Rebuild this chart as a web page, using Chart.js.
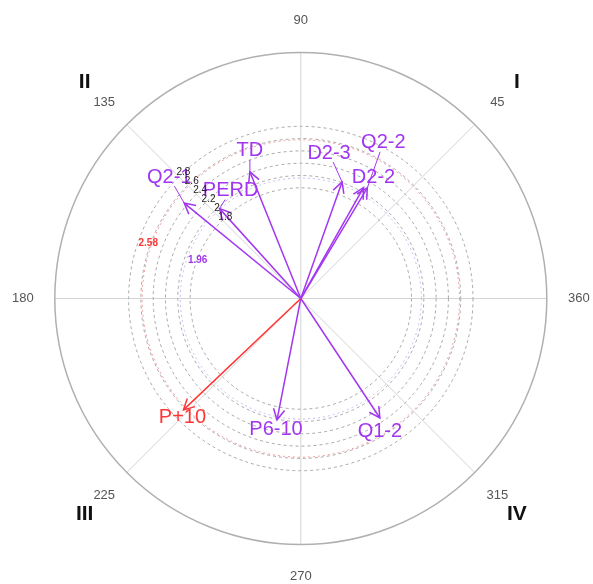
<!DOCTYPE html>
<html>
<head>
<meta charset="utf-8">
<script src="https://cdn.jsdelivr.net/npm/chart.js@4"></script>
<style>
  body { margin: 0; background: #fff; }
  #wrap { width: 593px; height: 584px; }
</style>
</head>
<body>
<div id="wrap"><canvas id="vectorChart" width="593" height="584"></canvas></div>
<script>
// vector data: magnitude (z) and direction (degrees)
const names = ['Q2-1', 'PERD', 'TD', 'D2-3', 'Q2-2', 'D2-2', 'P+10', 'P6-10', 'Q1-2'];
const magnitudes = [2.45, 1.97, 2.22, 2.01, 2.10, 2.07, 2.63, 2.01, 2.33];
const angles = [140.7, 132.1, 111.9, 70.5, 59, 60.5, 223.5, 258.9, 303.5];

const ringValues = [1.8, 2, 2.2, 2.4, 2.6, 2.8];
const critValues = [1.96, 2.58];
const angleTicks = [45, 90, 135, 180, 225, 270, 315, 360];
const quadrants = ['I', 'II', 'III', 'IV'];
const outerRadius = 4;

const PURPLE = '#A236F0';
const RED = '#FF3535';
const FONT = '"Liberation Sans", Arial, sans-serif';

// pixel offsets of each name label from its arrow tip
const labelOffsets = {
    'Q2-1': [-15, -26], 'PERD': [11, -18], 'TD': [0, -21], 'D2-3': [-13, -29],
    'Q2-2': [16, -45], 'D2-2': [10, -10], 'P+10': [-1, 8], 'P6-10': [-1, 10], 'Q1-2': [0, 13]
};

const rad = d => d * Math.PI / 180;
const colorFor = m => (m >= critValues[1] ? RED : PURPLE);

const datasets = names.map((n, i) => ({
    label: n,
    data: [{x: 0, y: 0}, {x: magnitudes[i] * Math.cos(rad(angles[i])), y: magnitudes[i] * Math.sin(rad(angles[i]))}],
    showLine: true,
    borderColor: colorFor(magnitudes[i]),
    borderWidth: 1.5,
    pointRadius: 0,
    fill: false
}));

const polarGrid = {
    id: 'polarGrid',
    beforeDatasetsDraw(chart) {
        const {ctx, scales: {x, y}} = chart;
        const cx = x.getPixelForValue(0), cy = y.getPixelForValue(0);
        const px = v => x.getPixelForValue(v) - cx;
        ctx.save();
        // spokes
        ctx.strokeStyle = '#d4d4d4';
        ctx.lineWidth = 1;
        for (let a = 0; a < 360; a += 45) {
            ctx.beginPath();
            ctx.moveTo(cx, cy);
            ctx.lineTo(x.getPixelForValue(outerRadius * Math.cos(rad(a))), y.getPixelForValue(outerRadius * Math.sin(rad(a))));
            ctx.stroke();
        }
        // outer circle
        ctx.strokeStyle = '#b0b0b0';
        ctx.lineWidth = 1.5;
        ctx.beginPath();
        ctx.arc(cx, cy, px(outerRadius), 0, Math.PI * 2);
        ctx.stroke();
        // dashed rings
        ctx.lineWidth = 1;
        ctx.setLineDash([3, 3]);
        ctx.strokeStyle = '#a8a8a8';
        ringValues.forEach(v => {
            ctx.beginPath();
            ctx.arc(cx, cy, px(v), 0, Math.PI * 2);
            ctx.stroke();
        });
        ctx.setLineDash([2, 3]);
        [['#c8b8f4', critValues[0]], ['#f29a9a', critValues[1]]].forEach(([c, v]) => {
            ctx.strokeStyle = c;
            ctx.beginPath();
            ctx.arc(cx, cy, px(v), 0, Math.PI * 2);
            ctx.stroke();
        });
        ctx.setLineDash([]);
        // angle labels
        ctx.fillStyle = '#555';
        ctx.font = '13px ' + FONT;
        ctx.textAlign = 'center';
        ctx.textBaseline = 'middle';
        angleTicks.forEach(a => {
            const r = 4.52;
            ctx.fillText(String(a), x.getPixelForValue(r * Math.cos(rad(a))), y.getPixelForValue(r * Math.sin(rad(a))));
        });
        // quadrant numerals
        ctx.fillStyle = '#111';
        ctx.font = 'bold 21px ' + FONT;
        quadrants.forEach((q, i) => {
            const a = 45 + 90 * i, r = 4.97;
            ctx.fillText(q, x.getPixelForValue(r * Math.cos(rad(a))), y.getPixelForValue(r * Math.sin(rad(a))));
        });
        ctx.restore();
    }
};

const vectorLabels = {
    id: 'vectorLabels',
    afterDatasetsDraw(chart) {
        const {ctx, scales: {x, y}} = chart;
        ctx.save();
        ctx.font = '20px ' + FONT;
        ctx.textAlign = 'center';
        ctx.textBaseline = 'middle';
        names.forEach((n, i) => {
            const meta = chart.getDatasetMeta(i);
            const p0 = meta.data[0], p1 = meta.data[1];
            const col = colorFor(magnitudes[i]);
            const ang = Math.atan2(p1.y - p0.y, p1.x - p0.x);
            // arrow head
            ctx.strokeStyle = col;
            ctx.lineWidth = 1.5;
            const hl = 12, spread = rad(28);
            ctx.beginPath();
            ctx.moveTo(p1.x - hl * Math.cos(ang - spread), p1.y - hl * Math.sin(ang - spread));
            ctx.lineTo(p1.x, p1.y);
            ctx.lineTo(p1.x - hl * Math.cos(ang + spread), p1.y - hl * Math.sin(ang + spread));
            ctx.stroke();
            // label with connector
            const [ox, oy] = labelOffsets[n];
            const lx = p1.x + ox, ly = p1.y + oy;
            const w = ctx.measureText(n).width / 2 + 1, h = 9;
            const d = Math.hypot(ox, oy);
            if (d > 14) {
                const t = Math.min(Math.abs(ox) > 0 ? w / Math.abs(ox) : 1e9, Math.abs(oy) > 0 ? h / Math.abs(oy) : 1e9);
                if (t < 1) {
                    ctx.lineWidth = 1;
                    ctx.beginPath();
                    ctx.moveTo(p1.x, p1.y);
                    ctx.lineTo(lx - ox * t, ly - oy * t);
                    ctx.stroke();
                }
            }
            ctx.fillStyle = col;
            ctx.fillText(n, lx, ly);
        });
        // ring value labels
        ctx.font = '10px ' + FONT;
        ctx.fillStyle = '#222';
        ringValues.forEach(v => {
            ctx.fillText(String(v), x.getPixelForValue(v * Math.cos(rad(133))), y.getPixelForValue(v * Math.sin(rad(133))));
        });
        ctx.font = 'bold 10px ' + FONT;
        ctx.fillStyle = RED;
        ctx.fillText(String(critValues[1]), x.getPixelForValue(2.64 * Math.cos(rad(160))), y.getPixelForValue(2.64 * Math.sin(rad(160))));
        ctx.fillStyle = PURPLE;
        ctx.fillText(String(critValues[0]), x.getPixelForValue(1.79 * Math.cos(rad(159.5))), y.getPixelForValue(1.79 * Math.sin(rad(159.5))));
        ctx.restore();
    }
};

new Chart(document.getElementById('vectorChart').getContext('2d'), {
    type: 'scatter',
    data: {datasets},
    options: {
        responsive: false,
        animation: false,
        layout: {padding: 0},
        scales: {
            x: {type: 'linear', min: -4.891, max: 4.751, display: false},
            y: {type: 'linear', min: -4.642, max: 4.854, display: false}
        },
        plugins: {
            legend: {display: false},
            tooltip: {enabled: false}
        }
    },
    plugins: [polarGrid, vectorLabels]
});
</script>
</body>
</html>
